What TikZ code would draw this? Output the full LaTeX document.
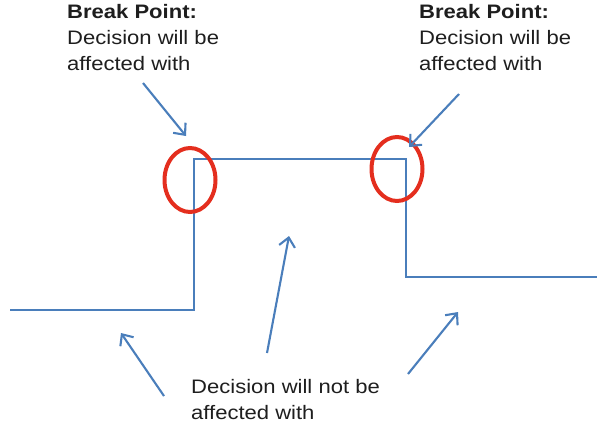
\documentclass[tikz,border=0pt]{standalone}
\usepackage{fontspec}
\setmainfont{Liberation Sans}[FakeStretch=1.13]
\usepackage{xcolor}
\usepackage{tikz}
\usetikzlibrary{shapes.geometric,arrows.meta}
\definecolor{stepblue}{RGB}{74,126,187}
\definecolor{ringred}{RGB}{228,46,30}
\definecolor{inkgray}{RGB}{30,30,30}
\tikzset{
  pointer/.style={draw=stepblue, line width=2.1bp, -{Straight Barb[length=9bp,width=16bp]}},
  ring/.style={ellipse, draw=ringred, line width=4bp, minimum width=51bp, minimum height=64bp, inner sep=0pt},
  caption/.style={anchor=north west, align=left, inner sep=0pt, text=inkgray, font=\fontsize{19.5bp}{26bp}\selectfont}
}

\begin{document}
\begin{tikzpicture}[x=1bp,y=-1bp]
\useasboundingbox (0,0) rectangle (597,425);
\node at (67,4.5)[caption](bpleft){\textbf{Break Point:}\\Decision will be\\affected with};
\node at (419,4.5)[caption](bpright){\textbf{Break Point:}\\Decision will be\\affected with};
\node at (191,379)[caption](notaffected){Decision will not be\\affected with};
\draw[stepblue, line width=2.1bp] (10,310) -- (194,310) -- (194,159) -- (406,159) -- (406,277) -- (597,277);
\node at (190,180)[ring](ringleft){};
\node at (397,169)[ring](ringright){};
\coordinate (ltail) at (143,83);
\coordinate (lhead) at (186,136);
\coordinate (rtail) at (459,94);
\coordinate (rhead) at (409,147);
\coordinate (lowtail) at (164,396);
\coordinate (lowhead) at (121,333);
\coordinate (midtail) at (267,353);
\coordinate (midhead) at (289,236);
\coordinate (hightail) at (408,374);
\coordinate (highhead) at (458,312);
\draw (ltail)[pointer] -- (lhead);
\draw (rtail)[pointer] -- (rhead);
\draw (lowtail)[pointer] -- (lowhead);
\draw (midtail)[pointer] -- (midhead);
\draw (hightail)[pointer] -- (highhead);
\end{tikzpicture}
\end{document}
